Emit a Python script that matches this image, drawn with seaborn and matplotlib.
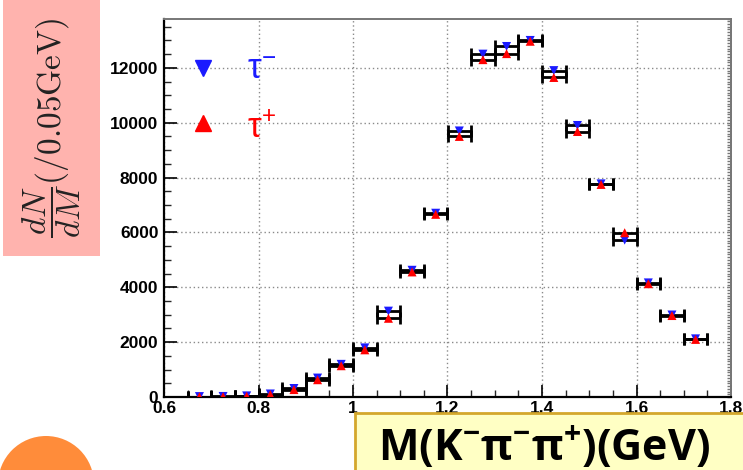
import matplotlib
matplotlib.use("Agg")
import matplotlib.pyplot as plt
import matplotlib.patches as mpatches
from matplotlib.ticker import MultipleLocator, FixedLocator
import numpy as np
import pandas as pd
import seaborn as sns

# ---- data ----
mass = [0.675, 0.725, 0.775, 0.825, 0.875, 0.925, 0.975, 1.025, 1.075, 1.125, 1.175,
        1.225, 1.275, 1.325, 1.375, 1.425, 1.475, 1.525, 1.575, 1.625, 1.675, 1.725]
tau_minus = [15, 20, 40, 110, 310, 690, 1190, 1790, 3130, 4620, 6700,
             9700, 12500, 12780, 13000, 11900, 9900, 7770, 5720, 4160, 2990, 2120]
tau_plus = [10, 15, 30, 90, 270, 630, 1140, 1720, 2870, 4560, 6660,
            9500, 12300, 12520, 12970, 11650, 9680, 7750, 5990, 4130, 2970, 2100]
bin_half_width = [0.025] * len(mass)
series_labels = ["τ-", "τ+"]
xticks = [0.6, 0.8, 1.0, 1.2, 1.4, 1.6, 1.8]
xticklabels = ["0.6", "0.8", "1", "1.2", "1.4", "1.6", "1.8"]
yticks = [0, 2000, 4000, 6000, 8000, 10000, 12000]

df = pd.DataFrame({
    "mass": mass * 2,
    "counts": tau_minus + tau_plus,
    "charge": [series_labels[0]] * len(mass) + [series_labels[1]] * len(mass),
})

sns.set_style("ticks")
plt.rcParams["font.family"] = ["Liberation Sans", "DejaVu Sans"]
plt.rcParams["mathtext.default"] = "regular"

fig = plt.figure(figsize=(7.43, 4.70), dpi=100)
ax = fig.add_axes([164 / 743, 73 / 470, 567 / 743, 378.5 / 470])

# error bars
for lab, vals in zip(series_labels, [tau_minus, tau_plus]):
    ax.errorbar(mass, vals, xerr=bin_half_width, fmt="none", ecolor="black",
                elinewidth=2.0, capsize=4, capthick=2.0, zorder=2)

sns.scatterplot(data=df, x="mass", y="counts", hue="charge", style="charge",
                hue_order=series_labels, style_order=series_labels,
                markers={"τ-": "v", "τ+": "^"},
                palette={"τ-": "#1a1aff", "τ+": "#ff0000"},
                s=42, edgecolor="none", legend=False, ax=ax, zorder=3)

ax.set_xlim(0.6, 1.8)
ax.set_ylim(0, 13800)
ax.set_xlabel("")
ax.set_ylabel("")
ax.xaxis.set_major_locator(FixedLocator(xticks))
ax.set_xticklabels(xticklabels)
ax.xaxis.set_minor_locator(MultipleLocator(0.05))
ax.yaxis.set_major_locator(FixedLocator(yticks))
ax.yaxis.set_minor_locator(MultipleLocator(500))
ax.tick_params(axis="both", which="major", direction="in", length=9, width=1.2,
               labelsize=12.5, colors="black")
ax.tick_params(axis="both", which="minor", direction="in", length=5, width=1.0)
for lbl in ax.get_xticklabels() + ax.get_yticklabels():
    lbl.set_fontweight("bold")
ax.tick_params(axis="y", pad=4)
ax.tick_params(axis="x", pad=3)

ax.grid(True, which="major", color="#8a8a8a", linestyle=(0, (1, 2)), linewidth=1.0)
for side in ["left", "bottom"]:
    ax.spines[side].set_color("black")
    ax.spines[side].set_linewidth(1.6)
for side in ["top", "right"]:
    ax.spines[side].set_visible(True)
    ax.spines[side].set_color("#777777")
    ax.spines[side].set_linewidth(1.4)

sec = ax.secondary_yaxis("right")
sec.yaxis.set_major_locator(MultipleLocator(100))
sec.tick_params(direction="in", length=3, width=1.0, colors="#777777", labelright=False)
sec.spines["right"].set_color("#777777")
sec.spines["right"].set_linewidth(1.4)

# legend-like labels
ax.plot([0.6825], [12000], marker="v", color="#1a1aff", markersize=11, linestyle="none")
ax.plot([0.6825], [10000], marker="^", color="#ff0000", markersize=11, linestyle="none")
ax.text(0.776, 11950, "τ$^{\u2212}$", color="#1a1aff", fontsize=25, va="center", ha="left")
ax.text(0.776, 9800, "τ$^{+}$", color="#ff0000", fontsize=25, va="center", ha="left")

# pink y-label box
fig.add_artist(mpatches.Rectangle((3 / 743, (470 - 256) / 470), 97 / 743, 256 / 470,
                                  transform=fig.transFigure, facecolor="#ffb3ae",
                                  edgecolor="none", zorder=0))
fig.text(52 / 743, (470 - 128) / 470,
         r"$\dfrac{\mathit{dN}}{\mathit{dM}}\mathrm{(/0.05GeV)}$",
         rotation=90, ha="center", va="center", fontsize=24,
         math_fontfamily="cm", color="#222222")

# yellow x-label box
fig.add_artist(mpatches.Rectangle((355 / 743, -0.01), 400 / 743, (57 / 470) + 0.01,
                                  transform=fig.transFigure, facecolor="#ffffc4",
                                  edgecolor="#d4a72c", linewidth=2, zorder=5))
fig.text(378 / 743, 10 / 470, "M(K$^{\u2212}$π$^{\u2212}$π$^{+}$)(GeV)", ha="left",
         va="baseline", fontsize=31, fontweight="bold",
         family=["Open Sans", "DejaVu Sans"], color="black", zorder=6)

# orange circle
fig.add_artist(mpatches.Circle((0.46, -0.14), 0.48, transform=fig.dpi_scale_trans,
                               facecolor="#ff8c3a", edgecolor="none", zorder=5))

fig.savefig("out.png", dpi=100)
